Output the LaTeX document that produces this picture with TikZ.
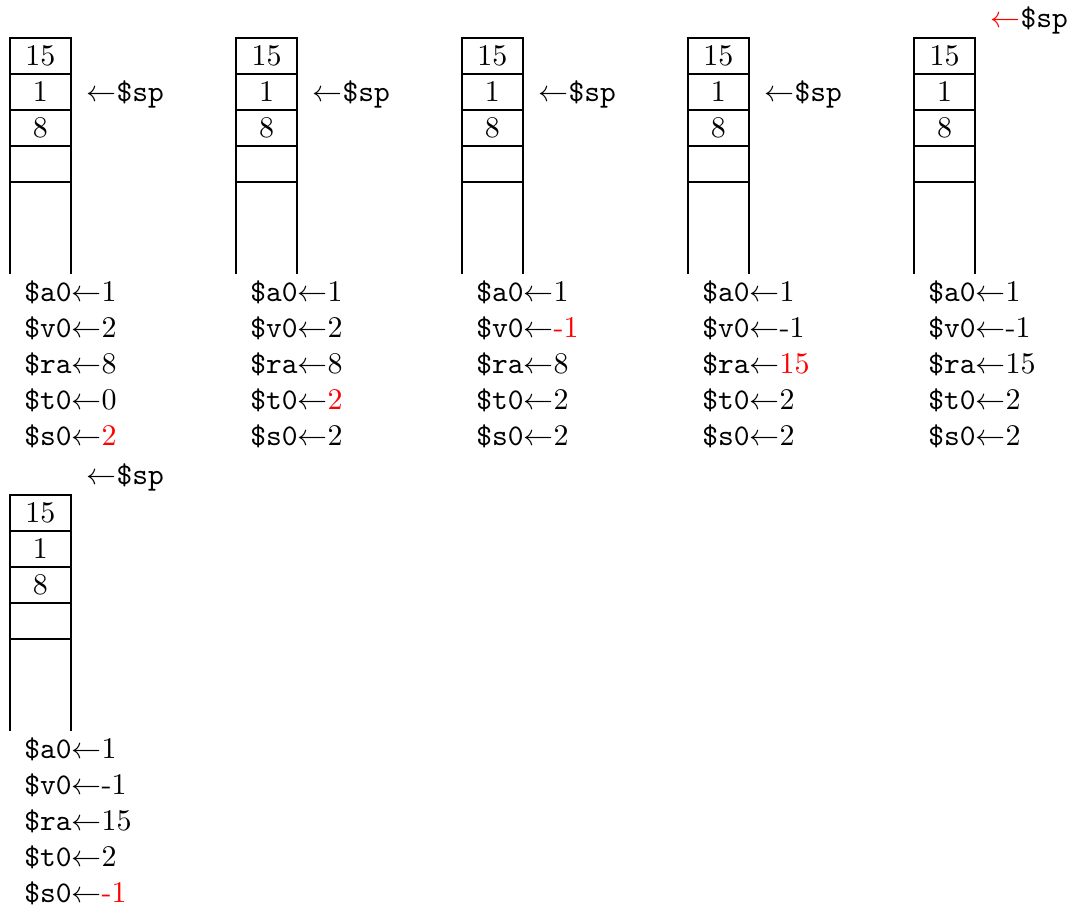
\documentclass[tikz,border=0pt]{standalone}
\usepackage{amsmath, amssymb}
\usetikzlibrary{positioning}

\newcommand{\chg}[1]{\textcolor{red}{#1}}

\begin{document}
\begin{tikzpicture}[x=1pt, y=1pt,
    cell/.style={draw, minimum width=20.33pt, minimum height=12pt, inner sep=0pt, outer sep=0pt},
    reg/.style={inner sep=0pt, anchor=base west},
    sptag/.style={inner sep=0pt}]
    \useasboundingbox (0,0) rectangle (358.67,304.33);

    % one stack frame and its register values per entry
    \foreach \n/\x/\y/\va/\vv/\vr/\vt/\vs in {
        1/3.33/291.67/1/2/8/0/\chg{2},
        2/78.67/291.67/1/2/8/\chg{2}/2,
        3/154/291.67/1/\chg{-1}/8/2/2,
        4/229.33/291.67/1/-1/\chg{15}/2/2,
        5/304.67/291.67/1/-1/15/2/2,
        6/3.33/139.33/1/-1/15/2/\chg{-1}}
    {
        \node [cell, anchor=north west] (s\n a) at (\x,\y) {15};
        \node [cell, below=0pt of s\n a] (s\n b) {1};
        \node [cell, below=0pt of s\n b] (s\n c) {8};
        \node [cell, below=0pt of s\n c] (s\n d) {};
        \draw (s\n d.south west) -- ++(0,-30.6);
        \draw (s\n d.south east) -- ++(0,-30.6);

        \node [reg] (r\n a) at ([xshift=4.6pt, yshift=-88pt]s\n a.north west) {\texttt{\$a0}$\leftarrow$\va};
        \node [reg] (r\n v) at ([yshift=-12pt]r\n a.base west) {\texttt{\$v0}$\leftarrow$\vv};
        \node [reg] (r\n r) at ([yshift=-12pt]r\n v.base west) {\texttt{\$ra}$\leftarrow$\vr};
        \node [reg] (r\n t) at ([yshift=-12pt]r\n r.base west) {\texttt{\$t0}$\leftarrow$\vt};
        \node [reg] (r\n s) at ([yshift=-12pt]r\n t.base west) {\texttt{\$s0}$\leftarrow$\vs};
    }

    % stack pointer marks
    \node [sptag, base right=5pt of s1b] (p1) {$\leftarrow$\texttt{\$sp}};
    \node [sptag, base right=5pt of s2b] (p2) {$\leftarrow$\texttt{\$sp}};
    \node [sptag, base right=5pt of s3b] (p3) {$\leftarrow$\texttt{\$sp}};
    \node [sptag, base right=5pt of s4b] (p4) {$\leftarrow$\texttt{\$sp}};
    \node [sptag, anchor=base west] (p5) at ([xshift=5pt, yshift=3.5pt]s5a.north east) {\textcolor{red}{$\leftarrow$}\texttt{\$sp}};
    \node [sptag, anchor=base west] (p6) at ([xshift=5pt, yshift=3.5pt]s6a.north east) {$\leftarrow$\texttt{\$sp}};
\end{tikzpicture}
\end{document}
